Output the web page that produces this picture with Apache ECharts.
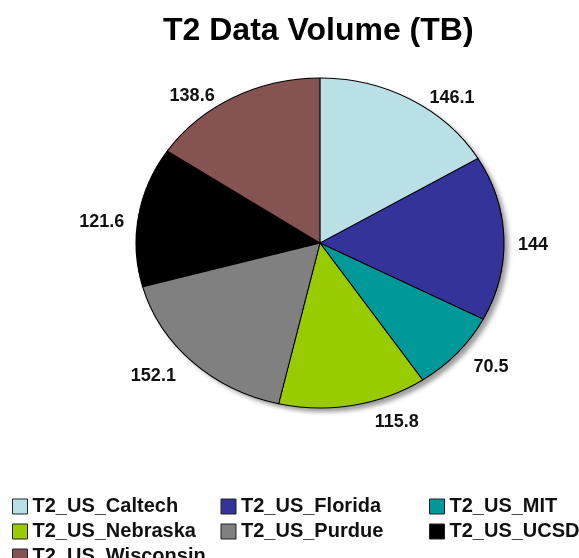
<!DOCTYPE html>
<html>
<head>
<meta charset="utf-8">
<script src="https://cdn.jsdelivr.net/npm/echarts@6/dist/echarts.min.js"></script>
<style>
  html, body { margin: 0; padding: 0; background: #fff; overflow: hidden; }
  #wrap { position: relative; width: 579px; height: 558px; overflow: hidden; }
  #pie { position: absolute; left: 0; top: 0; width: 579px; height: 558px;
         transform: scaleX(1.115); transform-origin: 320px 0; }
  #over { position: absolute; left: 0; top: 0; width: 579px; height: 558px; }
</style>
</head>
<body>
<div id="wrap">
  <div id="pie"></div>
  <div id="over"></div>
</div>
<script>
// ---- data ----
const titleText = 'T2 Data Volume (TB)';
const categories = ['T2_US_Caltech', 'T2_US_Florida', 'T2_US_MIT', 'T2_US_Nebraska',
                    'T2_US_Purdue', 'T2_US_UCSD', 'T2_US_Wisconsin'];
const values = [146.1, 144, 70.5, 115.8, 152.1, 121.6, 138.6];

// ---- styles / layout ----
const palette = ['#b9e0e4', '#333399', '#009999', '#99cc00', '#808080', '#000000', '#865353'];
const FONT = "'Liberation Sans', Arial, Helvetica, sans-serif";
const legendCols = 3, legendColLefts = [12, 220.5, 429], legendRowTop0 = 496.5, legendRowPitch = 25;
const total = values.reduce((a, b) => a + b, 0);

// ---- pie slices (stretched horizontally to match the elliptical pie) ----
const pieChart = echarts.init(document.getElementById('pie'), null, { renderer: 'canvas', devicePixelRatio: 2 });
pieChart.setOption({
  animation: false,
  backgroundColor: '#ffffff',
  series: [
    {
      type: 'pie', silent: true,
      center: [320, 243], radius: 165,
      label: { show: false }, labelLine: { show: false },
      data: [{ value: total, name: 'shadow' }],
      itemStyle: {
        color: '#ffffff',
        shadowColor: 'rgba(0,0,0,0.38)', shadowBlur: 4,
        shadowOffsetX: 4, shadowOffsetY: 4
      }
    },
    {
      type: 'pie', silent: true,
      center: [320, 243], radius: 165,
      startAngle: 90, clockwise: true,
      label: { show: false }, labelLine: { show: false },
      itemStyle: { borderColor: '#000000', borderWidth: 1 },
      data: categories.map((c, i) => ({ name: c, value: values[i], itemStyle: { color: palette[i] } }))
    }
  ]
});

// ---- title, value labels, legend ----
const overChart = echarts.init(document.getElementById('over'), null, { renderer: 'canvas' });
const legends = categories.map((n, i) => ({
  left: legendColLefts[i % legendCols],
  top: legendRowTop0 + Math.floor(i / legendCols) * legendRowPitch,
  orient: 'horizontal',
  padding: 0,
  itemWidth: 15, itemHeight: 15,
  icon: 'rect',
  selectedMode: false,
  data: [{
    name: n,
    icon: 'rect',
    itemStyle: { color: palette[i], borderColor: '#222222', borderWidth: 1, opacity: 1 }
  }],
  textStyle: { fontSize: 20, fontWeight: 'bold', fontFamily: FONT, color: '#111111', lineHeight: 15 }
}));

overChart.setOption({
  animation: false,
  backgroundColor: 'transparent',
  title: {
    text: titleText,
    left: 163, top: 15, padding: 0,
    textStyle: { fontSize: 32, fontWeight: 'bold', fontFamily: FONT, color: '#000000' }
  },
  legend: legends,
  series: [{
    type: 'pie', silent: true,
    center: [320, 250], radius: 165,
    startAngle: 90, clockwise: true,
    avoidLabelOverlap: false,
    itemStyle: { color: 'rgba(0,0,0,0)', borderWidth: 0 },
    label: {
      show: true, position: 'outside', formatter: '{c}',
      fontSize: 18, fontWeight: 'bold', fontFamily: FONT, color: '#111111',
      distanceToLabelLine: 5
    },
    labelLine: { show: false, length: 10, length2: 18 },
    data: categories.map((c, i) => ({ name: c, value: values[i] }))
  }]
});
</script>
</body>
</html>
